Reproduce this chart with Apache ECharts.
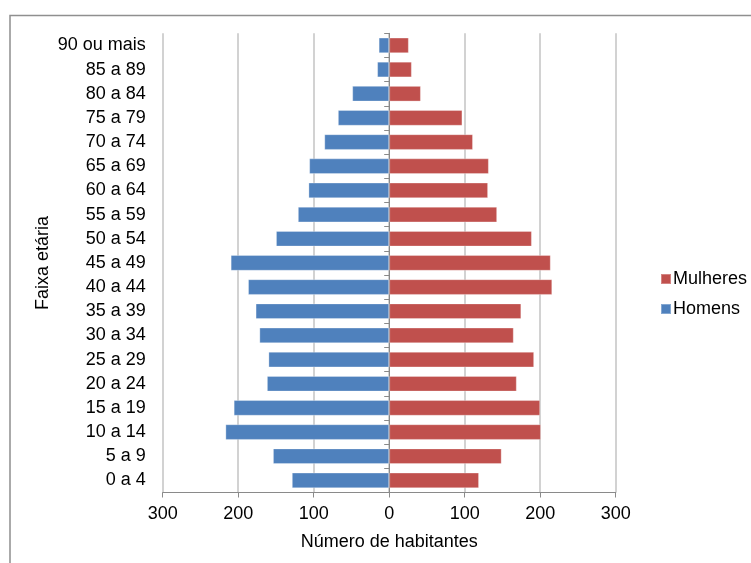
<!DOCTYPE html>
<html>
<head>
<meta charset="utf-8">
<script src="https://cdn.jsdelivr.net/npm/echarts@6/dist/echarts.min.js"></script>
<style>
  html, body { margin: 0; padding: 0; background: #fff; }
  #chart { width: 751px; height: 563px; }
</style>
</head>
<body>
<div id="chart"></div>
<script>
const categories = ['0 a 4','5 a 9','10 a 14','15 a 19','20 a 24','25 a 29','30 a 34','35 a 39','40 a 44','45 a 49','50 a 54','55 a 59','60 a 64','65 a 69','70 a 74','75 a 79','80 a 84','85 a 89','90 ou mais'];
const homens = [129, 154, 217, 206, 162, 160, 172, 177, 187, 210, 150, 121, 107, 106, 86, 68, 49, 16, 14];
const mulheres = [119, 149, 201, 200, 169, 192, 165, 175, 216, 214, 189, 143, 131, 132, 111, 97, 42, 30, 26];
const xTicks = { min: -300, max: 300, interval: 100 };
const axisTitleX = 'Número de habitantes';
const axisTitleY = 'Faixa etária';

const FONT = 'Liberation Sans, Arial, sans-serif';
const FS = 18;
const gridLeft = 162.7, gridRight = 135.3, gridTop = 33.3, gridBottom = 70.5;
const gridWidth = 751 - gridLeft - gridRight;

const chart = echarts.init(document.getElementById('chart'), null, { renderer: 'canvas' });
chart.setOption({
  animation: false,
  textStyle: { fontFamily: FONT },
  graphic: [{
    type: 'rect',
    shape: { x: 10, y: 15.5, width: 800, height: 600 },
    style: { fill: 'none', stroke: '#8f8f8f', lineWidth: 1.5 },
    silent: true,
    z: -10
  }],
  grid: { left: gridLeft, right: gridRight, top: gridTop, bottom: gridBottom, containLabel: false },
  legend: {
    orient: 'vertical',
    left: 655,
    top: 265,
    itemWidth: 10,
    itemHeight: 10,
    itemGap: 12,
    icon: 'rect',
    data: ['Mulheres', 'Homens'],
    textStyle: { fontFamily: FONT, fontSize: FS, color: '#000', padding: [0, 0, 0, -3] }
  },
  xAxis: {
    type: 'value',
    min: xTicks.min, max: xTicks.max, interval: xTicks.interval,
    name: axisTitleX,
    nameLocation: 'middle',
    nameGap: 41,
    nameMoveOverlap: false,
    nameTextStyle: { fontFamily: FONT, fontSize: FS, color: '#000' },
    axisLine: { show: true, onZero: false, lineStyle: { color: '#8a8a8a', width: 1 } },
    axisTick: { show: true, length: 5, lineStyle: { color: '#8a8a8a' } },
    axisLabel: {
      fontFamily: FONT, fontSize: FS, color: '#000', margin: 13,
      formatter: v => String(Math.abs(v))
    },
    splitLine: { show: true, lineStyle: { color: '#c3c3c3', width: 1.5 } }
  },
  yAxis: [{
    type: 'category',
    data: categories,
    position: 'left',
    name: axisTitleY,
    nameLocation: 'middle',
    nameRotate: 90,
    nameGap: 111,
    nameMoveOverlap: false,
    nameTextStyle: { fontFamily: FONT, fontSize: FS, color: '#000' },
    axisLine: { show: false, onZero: false },
    axisTick: { show: false },
    axisLabel: { fontFamily: FONT, fontSize: FS, color: '#000', margin: 17 },
    splitLine: { show: false }
  }, {
    type: 'category',
    data: categories,
    position: 'left',
    offset: -gridWidth / 2,
    axisLine: { show: true, onZero: false, lineStyle: { color: '#8a8a8a', width: 1 } },
    axisTick: { show: true, length: 5, lineStyle: { color: '#8a8a8a' } },
    axisLabel: { show: false },
    splitLine: { show: false }
  }],
  series: [{
    name: 'Homens',
    type: 'bar',
    stack: 'pyr',
    barWidth: '65%',
    data: homens.map(v => -v),
    itemStyle: { color: '#4F81BD', borderColor: 'rgba(255,255,255,0.3)', borderWidth: 1 }
  }, {
    name: 'Mulheres',
    type: 'bar',
    stack: 'pyr',
    barWidth: '65%',
    data: mulheres,
    itemStyle: { color: '#C0504D', borderColor: 'rgba(255,255,255,0.3)', borderWidth: 1 }
  }]
});
</script>
</body>
</html>
